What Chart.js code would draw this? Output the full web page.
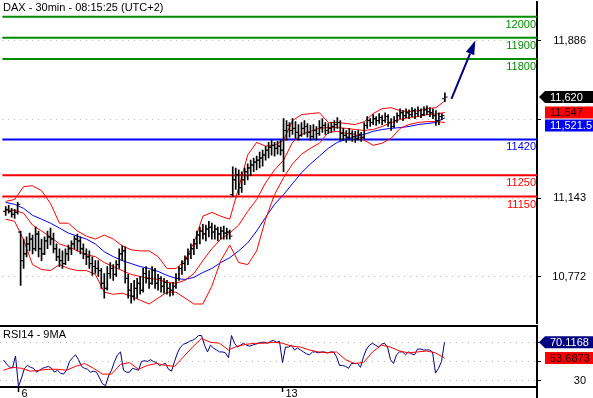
<!DOCTYPE html>
<html>
<head>
<meta charset="utf-8">
<title>DAX 30min</title>
<script src="https://cdn.jsdelivr.net/npm/chart.js@4.4.1/dist/chart.umd.min.js"></script>
<style>
  html, body { margin: 0; padding: 0; background: #fff; overflow: hidden; }
  body { width: 593px; height: 398px; position: relative; }
  #priceChart { position: absolute; left: 0; top: 0; }
  #rsiChart { position: absolute; left: 0; top: 325px; }
</style>
</head>
<body>
<canvas id="priceChart" width="593" height="326"></canvas>
<canvas id="rsiChart" width="593" height="73"></canvas>
<script>
Chart.defaults.font.family = '"Liberation Sans", Arial, sans-serif';
Chart.defaults.font.size = 11;
Chart.defaults.color = '#000';

const title = 'DAX - 30min - 08:15:25 (UTC+2)';
const rsiTitle = 'RSI14 - 9MA';

// 30 min bars, oldest first
const opens = [
  11080, 11089, 11080, 11066, 11075, 10982, 10847, 10879, 10926, 10949,
  10903, 10973, 10903, 10879, 10940, 10959, 10949, 10903, 10865, 10847,
  10833, 10879, 10903, 10926, 10949, 10940, 10903, 10879, 10865, 10833,
  10819, 10810, 10800, 10740, 10716, 10786, 10810, 10782, 10828, 10879,
  10893, 10763, 10707, 10679, 10716, 10740, 10707, 10786, 10763, 10740,
  10800, 10740, 10763, 10726, 10744, 10716, 10707, 10726, 10763, 10810,
  10833, 10856, 10879, 10903, 10926, 10968, 10987, 10973, 10996, 11005,
  10982, 10996, 10973, 10987, 10977, 10982, 11159, 11229, 11253, 11192,
  11229, 11267, 11285, 11299, 11313, 11322, 11332, 11346, 11369, 11383,
  11392, 11378, 11388, 11369, 11462, 11486, 11462, 11472, 11453, 11439,
  11472, 11481, 11453, 11434, 11462, 11448, 11476, 11486, 11462, 11472,
  11481, 11490, 11500, 11448, 11439, 11430, 11448, 11434, 11425, 11444,
  11430, 11486, 11509, 11500, 11518, 11509, 11523, 11509, 11528, 11500,
  11481, 11509, 11532, 11546, 11532, 11546, 11537, 11556, 11542, 11556,
  11537, 11560, 11551, 11546, 11532, 11509, 11528, 11612
];
const highs = [
  11103, 11108, 11094, 11089, 11122, 10987, 10949, 10959, 10977, 10968,
  11005, 10987, 10949, 10959, 10987, 11001, 10977, 10926, 10903, 10893,
  10903, 10921, 10940, 10963, 10973, 10959, 10926, 10903, 10893, 10865,
  10847, 10847, 10810, 10786, 10819, 10838, 10828, 10847, 10903, 10917,
  10912, 10782, 10740, 10754, 10763, 10772, 10810, 10819, 10800, 10819,
  10810, 10782, 10772, 10763, 10754, 10740, 10744, 10786, 10819, 10847,
  10870, 10903, 10926, 10949, 10987, 11005, 11019, 11015, 11033, 11024,
  11015, 11005, 11005, 11010, 11001, 10991, 11290, 11285, 11276, 11267,
  11285, 11304, 11322, 11332, 11341, 11360, 11369, 11388, 11406, 11416,
  11406, 11411, 11416, 11518, 11509, 11500, 11518, 11504, 11490, 11500,
  11509, 11495, 11486, 11490, 11481, 11509, 11518, 11500, 11495, 11500,
  11509, 11523, 11509, 11472, 11462, 11472, 11462, 11458, 11462, 11453,
  11500, 11528, 11518, 11537, 11528, 11542, 11532, 11546, 11537, 11518,
  11528, 11546, 11565, 11556, 11565, 11560, 11570, 11565, 11574, 11565,
  11574, 11579, 11570, 11565, 11556, 11546, 11542, 11640
];
const lows = [
  11061, 11071, 11052, 11047, 11066, 10730, 10810, 10865, 10893, 10879,
  10893, 10865, 10847, 10875, 10903, 10921, 10884, 10847, 10819, 10810,
  10828, 10847, 10875, 10903, 10893, 10879, 10856, 10828, 10810, 10777,
  10786, 10772, 10716, 10670, 10707, 10763, 10754, 10772, 10810, 10847,
  10740, 10670, 10646, 10660, 10670, 10688, 10698, 10740, 10716, 10735,
  10716, 10707, 10698, 10693, 10688, 10679, 10684, 10716, 10754, 10782,
  10800, 10828, 10856, 10875, 10903, 10926, 10949, 10940, 10959, 10949,
  10949, 10940, 10949, 10949, 10949, 10949, 11150, 11183, 11159, 11169,
  11206, 11229, 11248, 11267, 11276, 11285, 11294, 11322, 11332, 11346,
  11341, 11350, 11346, 11267, 11416, 11430, 11444, 11425, 11416, 11434,
  11444, 11430, 11416, 11425, 11416, 11439, 11453, 11444, 11448, 11453,
  11462, 11472, 11416, 11416, 11406, 11416, 11411, 11406, 11416, 11411,
  11425, 11472, 11481, 11490, 11486, 11495, 11490, 11500, 11481, 11462,
  11476, 11500, 11518, 11509, 11523, 11518, 11528, 11518, 11528, 11523,
  11532, 11537, 11528, 11518, 11486, 11490, 11514, 11598
];
const closes = [
  11089, 11080, 11066, 11075, 11113, 10847, 10879, 10926, 10949, 10903,
  10973, 10903, 10879, 10940, 10959, 10949, 10903, 10865, 10847, 10833,
  10879, 10903, 10926, 10949, 10940, 10903, 10879, 10865, 10833, 10819,
  10810, 10800, 10740, 10716, 10786, 10810, 10782, 10828, 10879, 10893,
  10763, 10707, 10679, 10716, 10740, 10707, 10786, 10763, 10740, 10800,
  10740, 10763, 10726, 10744, 10716, 10707, 10726, 10763, 10810, 10833,
  10856, 10879, 10903, 10926, 10968, 10987, 10973, 10996, 11005, 10982,
  10996, 10973, 10987, 10977, 10982, 10963, 11229, 11253, 11192, 11229,
  11267, 11285, 11299, 11313, 11322, 11332, 11346, 11369, 11383, 11392,
  11378, 11388, 11369, 11462, 11486, 11462, 11472, 11453, 11439, 11472,
  11481, 11453, 11434, 11462, 11448, 11476, 11486, 11462, 11472, 11481,
  11490, 11500, 11448, 11439, 11430, 11448, 11434, 11425, 11444, 11430,
  11486, 11509, 11500, 11518, 11509, 11523, 11509, 11528, 11500, 11481,
  11509, 11532, 11546, 11532, 11546, 11537, 11556, 11542, 11556, 11537,
  11560, 11551, 11546, 11532, 11509, 11528, 11532, 11620
];

// indicator readings, every third bar
const bandIdx = [0, 3, 6, 9, 12, 15, 18, 21, 24, 27, 30, 33, 36, 39, 42, 45, 48, 51, 54, 57,
  60, 63, 66, 69, 72, 75, 78, 81, 84, 87, 90, 93, 96, 99, 102, 105, 108, 111, 114, 117,
  120, 123, 126, 129, 132, 135, 138, 141, 144, 147];
const bbUpper = [11127, 11136, 11197, 11201, 11178, 11117, 11024, 11024, 10987, 10963,
  10949, 10968, 10949, 10917, 10898, 10893, 10893, 10866, 10810, 10810,
  10847, 10931, 11057, 11075, 11057, 11043, 11192, 11346, 11406, 11388,
  11392, 11416, 11509, 11537, 11542, 11546, 11500, 11500, 11495, 11490,
  11504, 11542, 11565, 11570, 11556, 11551, 11556, 11565, 11570, 11602];
const bbMiddle = [11085, 11085, 11071, 11015, 10987, 10959, 10926, 10912, 10893, 10875,
  10866, 10838, 10819, 10800, 10782, 10772, 10763, 10758, 10744, 10740,
  10754, 10786, 10847, 10903, 10949, 10977, 11015, 11080, 11136, 11215,
  11276, 11322, 11406, 11444, 11458, 11472, 11476, 11476, 11472, 11467,
  11462, 11467, 11481, 11500, 11514, 11523, 11528, 11537, 11540, 11547];
const bbLower = [11043, 11033, 10945, 10828, 10805, 10800, 10828, 10810, 10800, 10800,
  10782, 10698, 10688, 10693, 10679, 10660, 10642, 10670, 10698, 10698,
  10670, 10642, 10642, 10726, 10847, 10921, 10838, 10828, 10893, 11043,
  11159, 11239, 11304, 11350, 11378, 11402, 11453, 11458, 11448, 11444,
  11416, 11392, 11402, 11425, 11472, 11490, 11500, 11504, 11504, 11500];
const maLine = [11122, 11113, 11094, 11061, 11043, 11024, 11001, 10977, 10963, 10949,
  10926, 10889, 10866, 10847, 10833, 10819, 10810, 10796, 10777, 10763,
  10758, 10768, 10791, 10810, 10838, 10861, 10893, 10931, 10987, 11052,
  11113, 11159, 11211, 11262, 11304, 11341, 11378, 11406, 11420, 11434,
  11444, 11458, 11467, 11472, 11476, 11481, 11490, 11495, 11500, 11521.5];

const rsi = [
  51.6, 47.5, 44.3, 43.3, 55.8, 24, 33, 43, 46, 44,
  43, 39, 41, 43, 44, 45, 43, 39, 41, 38,
  37, 41, 50, 54, 57, 52, 45, 43, 42, 39,
  40, 39, 33, 27, 25, 35, 41, 50, 57, 60,
  41, 39, 39, 43, 42, 41, 50, 51, 50, 52,
  50, 49, 46, 47, 48, 42, 40, 50, 59, 65,
  68, 69, 71, 72, 74, 77, 77, 67, 60, 67,
  64, 62, 60, 60, 59, 54, 77, 69, 65, 67,
  69, 67, 66, 67, 68, 69, 70, 70, 69, 71,
  72, 70, 71, 49, 65, 65, 67, 62, 64, 62,
  60, 58, 57, 60, 60, 59, 60, 60, 59, 60,
  60, 55, 46, 46, 45, 43, 48, 48, 48, 44,
  55, 63, 67, 69, 67, 65, 68, 69, 65, 52,
  48, 57, 60, 60, 57, 60, 58, 57, 63, 63,
  62, 62, 62, 60, 38, 43, 50, 70.1168
];
const rsiMa = [41, 44, 43, 40, 41, 42, 42, 41, 45, 48,
  43, 37, 37, 47, 49, 42, 46, 48, 46, 45,
  55, 65, 74, 70, 69, 62, 66, 68, 69, 69,
  70, 69, 66, 65, 62, 60, 59, 60, 52, 48,
  49, 60, 67, 65, 61, 59, 60, 61, 59, 53.6873];

const levels = [12000, 11900, 11800, 11420, 11250, 11150];
const levelColors = ['#008c00', '#008c00', '#008c00', '#0000ff', '#ff0000', '#ff0000'];

const priceTicks = [11886, 11514.5, 11143, 10771.5];
const priceTickLabels = ['11,886', '', '11,143', '10,772'];
const rsiTicks = [30, 50, 70];
const rsiTickLabels = ['30', '', ''];
const dayTicks = [5, 93];
const dayLabels = ['6', '13'];

const arrowFrom = [149.2, 11611];
const arrowTo = [157.2, 11887];

// scale windows
const xMin = -7 / 6, xMax = xMin + 179;
const priceMin = 10548.4, priceMax = 12068.5;
const rsiMin = 23.6, rsiMax = 86.9;

const fmt = v => v.toLocaleString('en-US', { maximumFractionDigits: 4 });
const pts = (xs, ys) => xs.map((x, k) => ({ x, y: ys[k] }));
const last = a => a[a.length - 1];

const drawTags = (chart, tags) => {
    const { ctx, chartArea } = chart;
    const ys = chart.scales.y;
    const h = 12;
    let prevBottom = -Infinity;
    tags.map(t => ({ ...t, py: ys.getPixelForValue(t.value) }))
        .sort((a, b) => a.py - b.py)
        .forEach(t => {
            let y = t.py;
            if (y - h / 2 < prevBottom + 1) y = prevBottom + 1 + h / 2;
            const x0 = chartArea.right + 8, x1 = chart.width;
            ctx.save();
            ctx.fillStyle = t.bg;
            ctx.beginPath();
            if (t.pointer) {
                ctx.moveTo(chartArea.right + 2, y);
                ctx.lineTo(x0, y - h / 2);
            } else {
                ctx.moveTo(x0, y - h / 2);
            }
            ctx.lineTo(x1, y - h / 2);
            ctx.lineTo(x1, y + h / 2);
            ctx.lineTo(x0, y + h / 2);
            ctx.closePath();
            ctx.fill();
            ctx.fillStyle = t.fg;
            ctx.font = '11px "Liberation Sans", Arial, sans-serif';
            ctx.textAlign = 'left';
            ctx.textBaseline = 'middle';
            ctx.fillText(t.text, chartArea.right + 13, y + 0.5);
            ctx.restore();
            prevBottom = y + h / 2;
        });
};

const priceOverlay = {
    id: 'priceOverlay',
    afterDatasetsDraw(chart) {
        const { ctx, chartArea } = chart;
        const ys = chart.scales.y;
        ctx.save();
        ctx.font = '11px "Liberation Sans", Arial, sans-serif';
        ctx.textAlign = 'right';
        ctx.textBaseline = 'middle';
        levels.forEach((v, k) => {
            ctx.fillStyle = levelColors[k];
            ctx.fillText(String(v), chartArea.right - 1, ys.getPixelForValue(v) + 8);
        });
        ctx.restore();
    },
    afterDraw(chart) {
        const { ctx } = chart;
        const xs = chart.scales.x, ys = chart.scales.y;
        ctx.save();
        ctx.font = '11px "Liberation Sans", Arial, sans-serif';
        ctx.fillStyle = '#000';
        ctx.textAlign = 'left';
        ctx.textBaseline = 'alphabetic';
        ctx.fillText(title, 3, 11);

        // trend arrow
        const x1 = xs.getPixelForValue(arrowFrom[0]), y1 = ys.getPixelForValue(arrowFrom[1]);
        const x2 = xs.getPixelForValue(arrowTo[0]), y2 = ys.getPixelForValue(arrowTo[1]);
        const ang = Math.atan2(y2 - y1, x2 - x1);
        const headLen = 14, headW = 4.5;
        const bx = x2 - headLen * Math.cos(ang), by = y2 - headLen * Math.sin(ang);
        ctx.strokeStyle = ctx.fillStyle = '#000080';
        ctx.lineWidth = 2;
        ctx.beginPath();
        ctx.moveTo(x1, y1);
        ctx.lineTo(bx, by);
        ctx.stroke();
        ctx.beginPath();
        ctx.moveTo(x2, y2);
        ctx.lineTo(bx + headW * Math.sin(ang), by - headW * Math.cos(ang));
        ctx.lineTo(bx - headW * Math.sin(ang), by + headW * Math.cos(ang));
        ctx.closePath();
        ctx.fill();
        ctx.restore();

        drawTags(chart, [
            { value: last(closes), text: fmt(last(closes)), bg: '#000', fg: '#fff', pointer: true },
            { value: last(bbMiddle), text: fmt(last(bbMiddle)), bg: '#ff0000', fg: '#200000' },
            { value: last(maLine), text: fmt(last(maLine)), bg: '#0000ff', fg: '#fff' }
        ]);
    }
};

const rsiOverlay = {
    id: 'rsiOverlay',
    afterDraw(chart) {
        const { ctx, chartArea } = chart;
        ctx.save();
        ctx.strokeStyle = '#000';
        ctx.lineWidth = 2;
        ctx.beginPath();
        ctx.moveTo(chartArea.left, chartArea.top);
        ctx.lineTo(chartArea.right, chartArea.top);
        ctx.moveTo(chartArea.right, chartArea.bottom);
        ctx.lineTo(chartArea.right, chart.height);
        ctx.stroke();
        ctx.font = '11px "Liberation Sans", Arial, sans-serif';
        ctx.fillStyle = '#000';
        ctx.textAlign = 'left';
        ctx.textBaseline = 'alphabetic';
        ctx.fillText(rsiTitle, 3, chartArea.top + 11.5);
        ctx.restore();

        drawTags(chart, [
            { value: last(rsi), text: fmt(last(rsi)), bg: '#000080', fg: '#fff', pointer: true },
            { value: last(rsiMa), text: fmt(last(rsiMa)), bg: '#ff0000', fg: '#200000' }
        ]);
    }
};

const lineSet = (data, color, order) => ({
    type: 'line', data, borderColor: color, borderWidth: 1,
    pointRadius: 0, pointHoverRadius: 0, tension: 0, order
});
const tickSet = (data) => ({
    type: 'line', data, showLine: false, pointStyle: 'line',
    pointRadius: 1.2, pointHoverRadius: 0, pointBorderColor: '#000', pointBorderWidth: 1, order: 0
});

new Chart(document.getElementById('priceChart'), {
    type: 'line',
    data: {
        datasets: [
            ...levels.map((v, k) => ({
                type: 'line', data: [{ x: xMin, y: v }, { x: xMax, y: v }],
                borderColor: levelColors[k], borderWidth: 2, pointRadius: 0, order: 10
            })),
            lineSet(pts(bandIdx, bbUpper), '#ff0000', 5),
            lineSet(pts(bandIdx, bbMiddle), '#ff0000', 5),
            lineSet(pts(bandIdx, bbLower), '#ff0000', 5),
            lineSet(pts(bandIdx, maLine), '#0000ee', 5),
            {
                type: 'bar', data: highs.map((h, i) => ({ x: i, y: [lows[i], h] })),
                backgroundColor: '#000', barThickness: 1, borderWidth: 0, order: 1
            },
            tickSet(opens.map((o, i) => ({ x: i - 0.5, y: o }))),
            tickSet(closes.map((c, i) => ({ x: i + 0.5, y: c })))
        ]
    },
    options: {
        responsive: false, animation: false, events: [],
        layout: { padding: { left: 0, right: 7, top: 0, bottom: 0 } },
        plugins: { legend: { display: false }, tooltip: { enabled: false } },
        scales: {
            x: { type: 'linear', min: xMin, max: xMax, display: false, offset: false, bounds: 'data' },
            y: {
                position: 'right', min: priceMin, max: priceMax, bounds: 'data',
                afterBuildTicks: s => { s.ticks = priceTicks.map(v => ({ value: v })); },
                afterFit: s => { s.width = 49; s.paddingTop = 0; s.paddingBottom = 0; },
                ticks: { padding: 12, crossAlign: 'far', color: '#000', callback: (v, i) => priceTickLabels[i] },
                grid: { color: '#b4b4b4', lineWidth: 1, tickColor: '#000', tickLength: 4, tickWidth: 1 },
                border: { display: true, color: '#000', width: 2, dash: [1, 5] }
            }
        }
    },
    plugins: [priceOverlay]
});

new Chart(document.getElementById('rsiChart'), {
    type: 'line',
    data: {
        datasets: [
            lineSet(pts(rsi.map((v, i) => i), rsi), '#000080', 2),
            lineSet(pts(bandIdx, rsiMa), '#ff0000', 1)
        ]
    },
    options: {
        responsive: false, animation: false, events: [],
        layout: { padding: { left: 0, right: 7, top: 1, bottom: 0 } },
        plugins: { legend: { display: false }, tooltip: { enabled: false } },
        scales: {
            x: {
                type: 'linear', min: xMin, max: xMax, offset: false, bounds: 'data',
                afterBuildTicks: s => { s.ticks = dayTicks.map(v => ({ value: v })); },
                afterFit: s => { s.height = 11; s.paddingLeft = 0; s.paddingRight = 0; },
                ticks: {
                    align: 'start', labelOffset: 3, padding: -5, maxRotation: 0, autoSkip: false,
                    color: '#000', callback: (v, i) => dayLabels[i]
                },
                grid: { drawOnChartArea: false, tickLength: 5, tickColor: '#000', tickWidth: 1.5 },
                border: { display: true, color: '#000', width: 2 }
            },
            y: {
                position: 'right', min: rsiMin, max: rsiMax, bounds: 'data',
                afterBuildTicks: s => { s.ticks = rsiTicks.map(v => ({ value: v })); },
                afterFit: s => { s.width = 49; s.paddingTop = 0; s.paddingBottom = 0; },
                ticks: { padding: 33, crossAlign: 'far', color: '#000', callback: (v, i) => rsiTickLabels[i] },
                grid: { color: '#b4b4b4', lineWidth: 1, tickColor: '#000', tickLength: 4, tickWidth: 1 },
                border: { display: true, color: '#000', width: 2, dash: [1, 5] }
            }
        }
    },
    plugins: [rsiOverlay]
});
</script>
</body>
</html>
